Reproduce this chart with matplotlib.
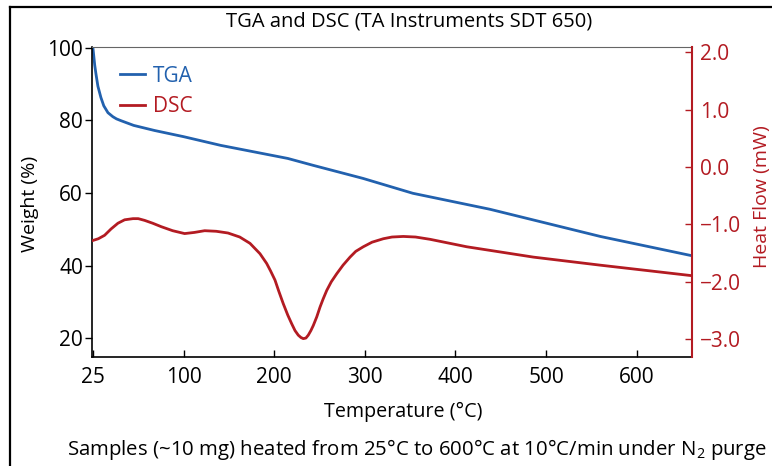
import numpy as np
import matplotlib
matplotlib.use("Agg")
from matplotlib import pyplot as plt
from matplotlib.lines import Line2D

plt.rcParams['font.family'] = ['Open Sans', 'DejaVu Sans']
plt.rcParams['mathtext.fontset'] = 'custom'
plt.rcParams['mathtext.rm'] = 'Open Sans'
plt.rcParams['mathtext.default'] = 'regular'

# axis units: the first tick sits on the left edge and is labelled "25"
temp_tga = [0, 1, 2, 3.3, 5.5, 8.8, 12, 16.6, 22, 26, 31, 45, 68, 100, 141, 215, 243, 298,
	353, 438, 560, 659]
weight = [100, 97.6, 95.2, 92.9, 89.4, 86.3, 84.0, 82.1, 81.0, 80.4, 79.9, 78.6, 77.2, 75.5,
	73.1, 69.5, 67.6, 64.0, 59.9, 55.5, 48.0, 42.8]

temp_dsc = [0, 6, 12.9, 20, 27.6, 35, 44.2, 50, 57, 66, 75.4, 88, 101.2, 112, 123.3, 136, 149,
	162, 173.3, 184.3, 191.7, 196, 200.9, 205, 210, 215, 219.3, 223, 226.6, 229.5, 232.1,
	235, 237.6, 240.5, 243.2, 247, 250.6, 254, 258, 263, 269, 276, 283.7, 290, 298.3, 308,
	320.4, 330, 342.5, 356, 372, 412.5, 486, 559.6, 659]
heat_flow = [-1.28, -1.25, -1.19, -1.08, -0.98, -0.92, -0.90, -0.90, -0.93, -0.98, -1.04, -1.11,
	-1.16, -1.14, -1.11, -1.12, -1.15, -1.22, -1.33, -1.51, -1.68, -1.81, -1.97, -2.16, -2.38,
	-2.58, -2.73, -2.85, -2.93, -2.97, -2.99, -2.98, -2.93, -2.85, -2.76, -2.61, -2.44, -2.30,
	-2.15, -2.00, -1.86, -1.71, -1.57, -1.47, -1.39, -1.31, -1.25, -1.22, -1.21, -1.22, -1.26,
	-1.39, -1.57, -1.71, -1.89]

x_ticks = [0, 100, 200, 300, 400, 500, 600]
x_labels = ["25", "100", "200", "300", "400", "500", "600"]
w_ticks = [20, 40, 60, 80, 100]
hf_ticks = [2.0, 1.0, 0.0, -1.0, -2.0, -3.0]

BLUE = "#2261ae"
RED = "#b31b22"

W, H = 772, 466
fig = plt.figure(figsize=(W / 100, H / 100), dpi=100)
ax = fig.add_axes([92 / W, 1 - 357 / H, 600 / W, 310 / H])
ax2 = ax.twinx()

l1, = ax.plot(temp_tga, weight, color=BLUE, lw=2)
l2, = ax2.plot(temp_dsc, heat_flow, color=RED, lw=2)

ax.set_xlim(-1, 661)
ax.set_ylim(14.8, 100.2)
ax2.set_ylim(-3.31, 2.09)

ax.set_xticks(x_ticks, labels=x_labels)
ax.set_yticks(w_ticks)
ax2.set_yticks(hf_ticks, labels=[f"{v:.1f}".replace("-", "\u2212") for v in hf_ticks])

ax.tick_params(axis='y', direction='out', length=5, width=1, labelsize=15, pad=1.5)
ax.tick_params(axis='x', direction='in', length=5, width=1, labelsize=15, pad=7)
ax2.tick_params(axis='y', direction='in', length=5, width=1, colors=RED, labelsize=15, pad=6)

for s in ['left', 'bottom']:
	ax.spines[s].set_linewidth(1.2)
ax.spines['top'].set_color("#666666")
ax.spines['right'].set_visible(False)
for s in ['left', 'bottom', 'top']:
	ax2.spines[s].set_visible(False)
ax2.spines['right'].set_color(RED)
ax2.spines['right'].set_linewidth(1.5)

ax2.legend([l1, l2], ["TGA", "DSC"], loc='upper left', bbox_to_anchor=(0.015, 1.0),
	frameon=False, fontsize=15, handlelength=1.2, handletextpad=0.4,
	labelspacing=0.45, labelcolor='linecolor')

fig.text(409 / W, 1 - 22 / H, "TGA and DSC (TA Instruments SDT 650)", ha='center', va='center', fontsize=14.5)
fig.text(403 / W, 1 - 412 / H, "Temperature (°C)", ha='center', va='center', fontsize=14.2)
fig.text(30 / W, 1 - 204 / H, "Weight (%)", ha='center', va='center', rotation=90, fontsize=14)
fig.text(762 / W, 1 - 197 / H, "Heat Flow (mW)", ha='center', va='center', rotation=90,
	fontsize=14, color=RED)
fig.text(417 / W, 1 - 449 / H, "Samples (~10 mg) heated from 25°C to 600°C at 10°C/min under N$_2$ purge",
	ha='center', va='center', fontsize=14.7)

# frame cut off at the right and bottom edges
fig.add_artist(Line2D([10 / W, 10 / W], [0, 1 - 7 / H], color='black', lw=1.6))
fig.add_artist(Line2D([10 / W, 1], [1 - 7 / H, 1 - 7 / H], color='black', lw=1.6))

fig.savefig("out.png", dpi=100)
